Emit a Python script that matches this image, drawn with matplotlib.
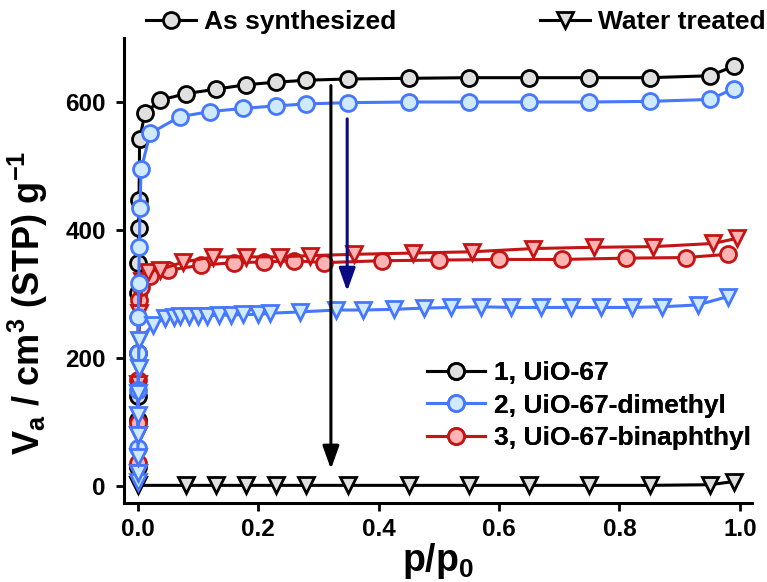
import matplotlib
matplotlib.use("Agg")
import matplotlib.pyplot as plt
from matplotlib.lines import Line2D

plt.rcParams['font.family'] = ['Liberation Sans', 'DejaVu Sans']
plt.rcParams['font.weight'] = 'bold'
plt.rcParams['axes.labelweight'] = 'bold'
plt.rcParams['mathtext.fontset'] = 'custom'
plt.rcParams['mathtext.rm'] = 'Liberation Sans:bold'
plt.rcParams['mathtext.bf'] = 'Liberation Sans:bold'
plt.rcParams['mathtext.it'] = 'Liberation Sans:bold'
plt.rcParams['mathtext.default'] = 'bf'

# ---- data ----
# 1, UiO-67 as synthesized
p1_as = [0.0002, 0.0004, 0.0006, 0.0009, 0.0012, 0.0016, 0.002, 0.0025, 0.0035,
         0.0125, 0.038, 0.08, 0.13, 0.18, 0.23, 0.28, 0.35, 0.45, 0.55, 0.65, 0.75, 0.85, 0.95, 0.99]
v1_as = [30, 103, 140, 208, 301, 348, 403, 447, 542,
         583, 603, 613, 620, 627, 631, 634, 636, 637, 638, 638, 638, 638, 641, 656]
# 1, UiO-67 water treated
p1_wt = [0.0, 0.08, 0.13, 0.18, 0.23, 0.28, 0.35, 0.45, 0.55, 0.65, 0.75, 0.85, 0.95, 0.99]
v1_wt = [1, 1, 1, 1, 1, 1, 1, 1, 1, 1, 1, 1, 2, 7]

# 2, UiO-67-dimethyl as synthesized
p2_as = [0.0003, 0.0006, 0.001, 0.0015, 0.002, 0.003, 0.004, 0.006,
         0.021, 0.07, 0.12, 0.175, 0.23, 0.28, 0.35, 0.45, 0.55, 0.65, 0.75, 0.85, 0.95, 0.99]
v2_as = [60, 150, 208, 264, 317, 374, 434, 495,
         551, 577, 585, 590, 594, 597, 599, 600, 600, 600, 600, 601, 604, 621]
# 2, UiO-67-dimethyl water treated
p2_wt = [0.0001, 0.0003, 0.0005, 0.0008, 0.0011, 0.0014, 0.0018, 0.0022,
         0.025, 0.045, 0.06, 0.07, 0.085, 0.1, 0.115, 0.135, 0.155, 0.175, 0.2, 0.22,
         0.27, 0.33, 0.375, 0.425, 0.475, 0.52, 0.57, 0.62, 0.67, 0.72, 0.77, 0.82, 0.87, 0.93, 0.98]
v2_wt = [7, 20, 46, 80, 111, 145, 185, 228,
         251, 262, 264, 265, 265, 266, 266, 267, 267, 268, 268, 270,
         272, 275, 275, 276, 278, 279, 280, 279, 279, 279, 279, 279, 280, 283, 296]

# 3, UiO-67-binaphthyl as synthesized
p3_as = [0.0004, 0.0009, 0.0015, 0.003, 0.006, 0.02,
         0.05, 0.105, 0.16, 0.21, 0.26, 0.31, 0.405, 0.5, 0.6, 0.705, 0.81, 0.91, 0.98]
v3_as = [36, 98, 165, 290, 311, 328,
         337, 345, 349, 350, 352, 349, 352, 353, 354, 354, 356, 357, 362]
# 3, UiO-67-binaphthyl water treated
p3_wt = [0.0003, 0.0008, 0.0015, 0.003, 0.008,
         0.018, 0.037, 0.076, 0.126, 0.18, 0.236, 0.286, 0.36, 0.457, 0.556, 0.657, 0.757, 0.856, 0.956, 0.995]
v3_wt = [20, 80, 160, 270, 320,
         335, 338, 350, 358, 358, 358, 360, 362, 364, 366, 371, 373, 374, 379, 387]

labels = ['1, UiO-67', '2, UiO-67-dimethyl', '3, UiO-67-binaphthyl']
line_colors = ['#000000', '#4577ff', '#c41414']
face_colors = ['#e0e0e0', '#cfe9ff', '#ffb3b3']

fig = plt.figure(figsize=(7.67, 5.82), dpi=100)
ax = fig.add_axes([0.1617, 0.1357, 0.8188, 0.799])

ms = 11.5
mew = 2.0
lw = 2.2

series = [(p1_as, v1_as, p1_wt, v1_wt), (p2_as, v2_as, p2_wt, v2_wt), (p3_as, v3_as, p3_wt, v3_wt)]
order = [0, 2, 1]
for i in order:
    pa, va, pw, vw = series[i]
    ax.plot(pa, va, '-o', color=line_colors[i], mfc=face_colors[i], mec=line_colors[i],
            ms=ms, mew=mew, lw=lw, zorder=3)
    ax.plot(pw, vw, '-v', color=line_colors[i], mfc=face_colors[i], mec=line_colors[i],
            ms=ms, mew=mew, lw=lw, zorder=3)

ax.set_xlim(-0.0224, 1.02)
ax.set_ylim(-26.6, 700)
ax.set_xticks([0.0, 0.2, 0.4, 0.6, 0.8, 1.0])
ax.set_xticklabels(['0.0', '0.2', '0.4', '0.6', '0.8', '1.0'])
ax.set_yticks([0, 200, 400, 600])
for s in ['top', 'right']:
    ax.spines[s].set_visible(False)
for s in ['left', 'bottom']:
    ax.spines[s].set_linewidth(2.2)
ax.tick_params(direction='out', length=6, width=2, labelsize=17.5, pad=5)
ax.tick_params(axis='y', pad=7)
for t in ax.get_xticklabels() + ax.get_yticklabels():
    t.set_fontweight('bold')

ax.set_xlabel('p/p$_0$', fontsize=27, labelpad=0)
ax.set_ylabel('V$_a$ / cm$^3$ (STP) g$^{-1}$', fontsize=26)
ax.yaxis.set_label_coords(-0.118, 0.43)

# arrows
ax.annotate('', xy=(0.321, 22), xytext=(0.321, 630),
            arrowprops=dict(arrowstyle='-|>,head_length=1.4,head_width=0.5', color='black', lw=2.2))
ax.annotate('', xy=(0.348, 300), xytext=(0.348, 578),
            arrowprops=dict(arrowstyle='-|>,head_length=1.4,head_width=0.5', color='#0a0a85', lw=2.2))

# lower-right legend
handles = [Line2D([], [], color=line_colors[i], marker='o', mfc=face_colors[i], mec=line_colors[i],
                  ms=ms, mew=mew, lw=lw) for i in range(3)]
leg = ax.legend(handles, labels, loc='lower right', bbox_to_anchor=(1.024, 0.08), frameon=False,
                prop={'size': 19, 'weight': 'bold'}, handlelength=2.2, handletextpad=0.35, labelspacing=0.32,
                borderaxespad=0.2)
ax.add_artist(leg)

# top legend
h_as = Line2D([], [], color='black', marker='o', mfc='#e0e0e0', mec='black', ms=ms, mew=mew, lw=lw)
h_wt = Line2D([], [], color='black', marker='v', mfc='#e0e0e0', mec='black', ms=ms, mew=mew, lw=lw)
l1 = fig.legend([h_as], ['As synthesized'], loc='center left', bbox_to_anchor=(0.19, 0.962), frameon=False,
                prop={'size': 19, 'weight': 'bold'}, handlelength=1.9, handletextpad=0.3,
                borderaxespad=0, borderpad=0)
l2 = fig.legend([h_wt], ['Water treated'], loc='center right', bbox_to_anchor=(0.998, 0.962), frameon=False,
                prop={'size': 19, 'weight': 'bold'}, handlelength=1.9, handletextpad=0.3,
                borderaxespad=0, borderpad=0)

fig.savefig('out.png', dpi=100)
